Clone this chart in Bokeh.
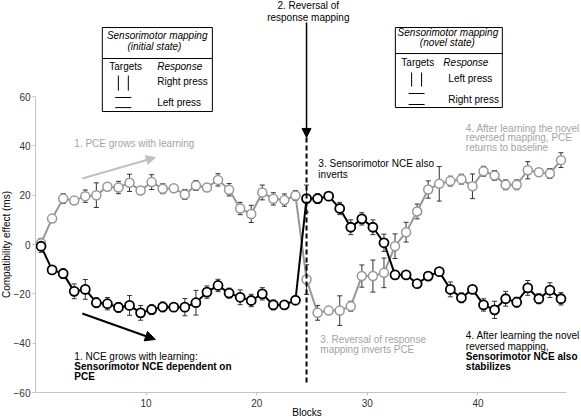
import numpy as np
from bokeh.plotting import figure
from bokeh.models import (Range1d, ColumnDataSource, Whisker, TeeHead, Label,
                          Arrow, NormalHead, FixedTicker)
from bokeh.embed import file_html
from bokeh.resources import INLINE

# ---------------- data ----------------
blocks = list(range(1, 49))
x_ticks = [10, 20, 30, 40]
y_ticks = [-60, -40, -20, 0, 20, 40, 60]

pce = [0.5, 10.5, 18.6, 17.8, 19.6, 20.0, 23.4, 23.1, 25.0, 21.9, 25.3, 22.6,
       22.8, 20.3, 23.9, 23.1, 26.2, 22.2, 14.6, 12.4, 21.1, 18.5, 18.0, 19.9,
       -14.2, -27.7, -26.8, -26.8, -25.0, -12.8, -12.8, -11.5, -0.7, 5.0, 13.4, 22.3,
       24.6, 25.7, 26.5, 23.6, 29.7, 28.0, 24.2, 24.2, 30.1, 29.3, 28.8, 34.2]
pce_err = [2, 1.5, 2, 1, 2.5, 5, 1.5, 2.5, 3.5, 1.5, 3, 2,
           1.5, 2, 2, 1.5, 2.5, 2.5, 2.5, 3.5, 3, 2.5, 2.5, 2,
           6, 3, 1.5, 6, 2, 4.5, 6.5, 6, 5, 4, 3, 3.5,
           7, 2, 2, 5, 2, 2, 2, 2, 3.5, 1.5, 2, 3]

nce = [-0.7, -10.3, -11.8, -19.0, -18.2, -23.6, -24.0, -25.5, -24.7, -27.7, -26.4, -25.3,
       -25.4, -25.4, -23.6, -19.3, -16.6, -19.7, -21.4, -22.7, -20.0, -24.5, -24.5, -22.6,
       18.6, 18.6, 19.6, 14.6, 7.0, 10.4, 7.0, 0.7, -12.3, -12.3, -15.9, -12.8,
       -11.0, -18.2, -21.6, -18.2, -24.5, -26.5, -22.0, -23.4, -17.6, -22.0, -18.5, -22.0]
nce_err = [2.5, 1, 2, 3, 4, 2, 2.5, 2, 4, 3, 2, 2,
           1, 3.5, 5, 2.5, 2.5, 2, 3, 2.5, 2.5, 2, 1, 1.5,
           5.5, 2, 1.5, 2.5, 3, 2.5, 3, 3.5, 1.5, 1, 1, 1.5,
           1, 3, 2, 1.5, 2.5, 3.5, 3, 2, 3, 2, 3, 2.5]

reversal_block = 25

# ---------------- styles ----------------
FONT = "Liberation Sans"
GRAY_LINE = "#979797"
GRAY_TEXT = "#a3a3a3"
GRAY_ARROW = "#c0c0c0"
AXIS = "#c4c4c4"
ERR = "#333333"

x = np.array(blocks) - 0.5
src = ColumnDataSource(dict(
    x=x,
    pce=pce, pce_lo=np.array(pce) - np.array(pce_err), pce_hi=np.array(pce) + np.array(pce_err),
    nce=nce, nce_lo=np.array(nce) - np.array(nce_err), nce_hi=np.array(nce) + np.array(nce_err),
))

# the frame covers the whole canvas; the axes are pinned inside it
p = figure(width=581, height=418, output_backend="svg", toolbar_location=None,
           x_range=Range1d(-3.164, 49.356), y_range=Range1d(-70.54, 98.92),
           min_border_left=0, min_border_right=0, min_border_top=0, min_border_bottom=0)
p.outline_line_color = None
p.grid.visible = False
p.background_fill_color = "white"

p.xaxis.fixed_location = -60
p.yaxis.fixed_location = 0
for ax, ticks, bounds, standoff in ((p.xaxis, x_ticks, (0, 48), 3), (p.yaxis, y_ticks, (-60, 60), 2)):
    ax.ticker = FixedTicker(ticks=ticks)
    ax.bounds = bounds
    ax.axis_line_color = AXIS
    ax.axis_line_width = 1
    ax.major_tick_line_color = AXIS
    ax.major_tick_out = 3
    ax.major_tick_in = 0
    ax.minor_tick_line_color = None
    ax.major_label_text_font = FONT
    ax.major_label_text_font_size = "10px"
    ax.major_label_text_color = "#333333"
    ax.major_label_standoff = standoff

# error bars
for lo, hi in (("pce_lo", "pce_hi"), ("nce_lo", "nce_hi")):
    w = Whisker(source=src, base="x", lower=lo, upper=hi, line_color=ERR, line_width=1,
                lower_head=TeeHead(size=5, line_color=ERR, line_width=1),
                upper_head=TeeHead(size=5, line_color=ERR, line_width=1),
                level="underlay")
    p.add_layout(w)

# series
p.line("x", "pce", source=src, line_color=GRAY_LINE, line_width=2)
p.scatter("x", "pce", source=src, marker="circle", size=9, fill_color="white",
          line_color=GRAY_LINE, line_width=1.5)
p.line("x", "nce", source=src, line_color="black", line_width=2)
p.scatter("x", "nce", source=src, marker="circle", size=9, fill_color="white",
          line_color="black", line_width=1.8)

# reversal line
xr = reversal_block - 0.5
p.segment(x0=[xr], y0=[43.4], x1=[xr], y1=[-55.9], line_color="black",
          line_width=2, line_dash="5 3")
p.add_layout(Arrow(x_start=xr, y_start=90.0, x_end=xr, y_end=43.4,
                   line_color="black", line_width=1.5,
                   end=NormalHead(size=9, fill_color="black", line_color="black", line_width=1)))

# learning arrows
p.add_layout(Arrow(x_start=4.23, y_start=26.75, x_end=10.83, y_end=35.27,
                   line_color=GRAY_ARROW, line_width=2,
                   end=NormalHead(size=9, fill_color=GRAY_ARROW, line_color=GRAY_ARROW, line_width=1)))
p.add_layout(Arrow(x_start=4.23, y_start=-27.97, x_end=10.83, y_end=-38.5,
                   line_color="black", line_width=2,
                   end=NormalHead(size=10, fill_color="black", line_color="black", line_width=1)))


def txt(t, xx, yy, color="black", style="normal", align="left", angle=0):
    p.add_layout(Label(x=xx, y=yy, text=t, text_font=FONT, text_font_size="10px",
                       text_color=color, text_font_style=style, text_align=align,
                       text_baseline="middle", angle=angle))


# mapping boxes
p.quad(left=[6.04, 32.53], right=[15.99, 42.2], top=[87.96, 87.96], bottom=[53.91, 55.53],
       fill_color="white", line_color="black", line_width=1)
p.segment(x0=[6.04, 32.53], y0=[75.4, 77.42], x1=[15.99, 42.2], y1=[75.4, 77.42],
          line_color="black", line_width=1)
# target glyphs
p.segment(x0=[7.49, 8.39, 34.0, 34.9], y0=[68.5, 68.5, 69.72, 69.72],
          x1=[7.49, 8.39, 34.0, 34.9], y1=[62.4, 62.4, 64.05, 64.05],
          line_color="black", line_width=1)
p.segment(x0=[7.21, 7.21, 33.73, 33.73], y0=[59.6, 55.5, 61.21, 56.75],
          x1=[8.66, 8.66, 35.17, 35.17], y1=[59.6, 55.5, 61.21, 56.75],
          line_color="black", line_width=1)

txt("Sensorimotor mapping", 11.0, 84.7, style="italic", align="center")
txt("(initial state)", 10.75, 80.3, style="italic", align="center")
txt("Targets", 6.67, 72.15)
txt("Response", 11.0, 72.15, style="italic")
txt("Right press", 11.0, 66.07)
txt("Left press", 11.0, 57.6)

txt("Sensorimotor mapping", 37.28, 85.9, style="italic", align="center")
txt("(novel state)", 37.23, 81.9, style="italic", align="center")
txt("Targets", 33.07, 73.77)
txt("Response", 36.87, 73.77, style="italic")
txt("Left press", 37.32, 67.3)
txt("Right press", 37.32, 58.8)

# top annotation
txt("2. Reversal of", 24.66, 96.7, align="center")
txt("response mapping", 24.66, 92.2, align="center")

# numbered annotations
txt("1. PCE grows with learning", 3.51, 40.94, color=GRAY_TEXT)
txt("1. NCE grows with learning:", 3.51, -45.4)
txt("Sensorimotor NCE dependent on", 3.51, -49.45, style="bold")
txt("PCE", 3.51, -53.5, style="bold")

txt("3. Sensorimotor NCE also", 25.57, 32.8)
txt("inverts", 25.57, 28.4)
txt("3. Reversal of response", 25.75, -38.5, color=GRAY_TEXT)
txt("mapping inverts PCE", 25.75, -42.56, color=GRAY_TEXT)

txt("4. After learning the novel", 38.9, 47.0, color=GRAY_TEXT)
txt("reversed mapping, PCE", 38.9, 43.2, color=GRAY_TEXT)
txt("returns to baseline", 38.9, 39.3, color=GRAY_TEXT)
txt("4. After learning the novel", 38.9, -36.9)
txt("reversed mapping,", 38.9, -41.3)
txt("Sensorimotor NCE also", 38.9, -45.4, style="bold")
txt("stabilizes", 38.9, -49.45, style="bold")

# axis titles
txt("Compatibility effect (ms)", -2.64, 0, align="center", angle=np.pi / 2)
txt("Blocks", 24.55, -68.1, align="center")

open("out.html", "w").write(file_html(p, INLINE))
